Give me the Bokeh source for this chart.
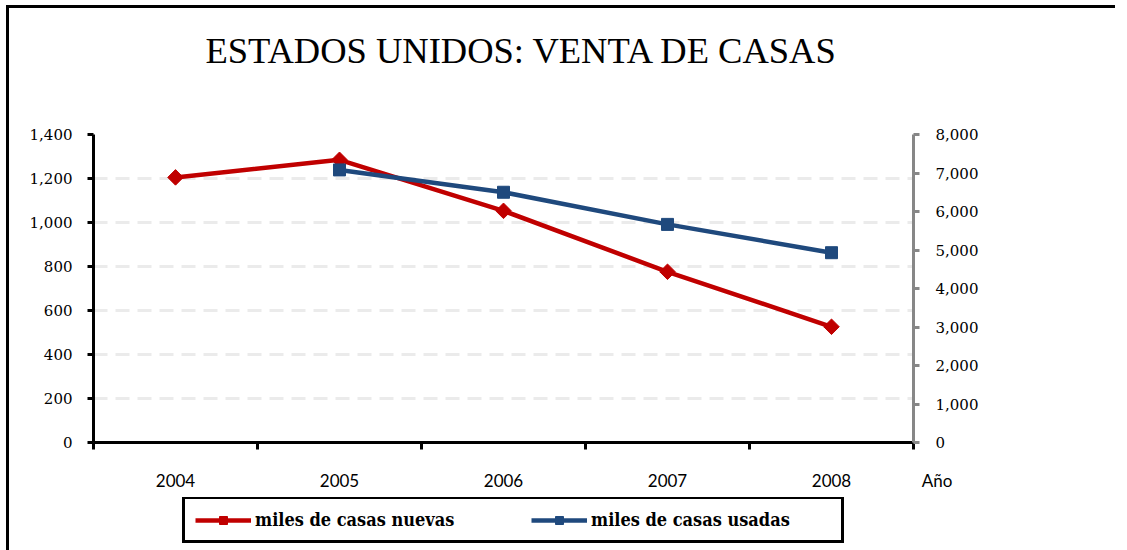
from bokeh.plotting import figure
from bokeh.layouts import column
from bokeh.models import (Range1d, LinearAxis, FixedTicker, NumeralTickFormatter,
                          Legend, LegendItem, ColumnDataSource, Title)
from bokeh.embed import file_html
from bokeh.resources import INLINE
import numpy as np

# ---- data ----
years = ["2004", "2005", "2006", "2007", "2008"]
nuevas = [1205, 1285, 1053, 776, 526]            # miles de casas nuevas (eje izq.)
usadas = [np.nan, 7080, 6500, 5665, 4930]        # miles de casas usadas (eje der.)
left_ticks = [0, 200, 400, 600, 800, 1000, 1200, 1400]
right_ticks = [0, 1000, 2000, 3000, 4000, 5000, 6000, 7000, 8000]
title_text = "ESTADOS UNIDOS: VENTA DE CASAS"
x_label = "Año"
label_nuevas = "miles de casas nuevas"
label_usadas = "miles de casas usadas"

n = len(years)
xc = np.arange(n) + 0.5          # category centres
xb = list(range(n + 1))          # category boundaries

src = ColumnDataSource(dict(x=xc, nuevas=nuevas, usadas=usadas))

fig = figure(frame_width=817, frame_height=305, output_backend="svg", toolbar_location=None,
             x_range=Range1d(0, n), y_range=Range1d(0, 1400), title=None,
             min_border_left=84, min_border_right=205, min_border_top=126,
             min_border_bottom=58)
fig.styles = {"border-top": "3px solid black", "border-left": "3px solid black",
              "margin-left": "6px", "margin-top": "5px"}
fig.outline_line_color = None
fig.background_fill_color = "white"
fig.border_fill_color = "white"

# title: spacer (next to the frame) then the main title above it
fig.add_layout(Title(text="\u00a0", text_font_size="10px", standoff=51,
                     text_color="white"), "above")
fig.add_layout(Title(text=title_text, align="left", offset=112, standoff=0,
                     text_font="Liberation Serif", text_font_size="36.5px",
                     text_font_style="normal", text_color="black"), "above")

# x axis (years at category centres, ticks at category boundaries, axis name at the end)
xa = fig.xaxis[0]
xa.ticker = FixedTicker(ticks=list(xc) + [float(n)], minor_ticks=xb)
overrides = {float(v): y for v, y in zip(xc, years)}
overrides[float(n)] = "\u00a0" * 11 + x_label
xa.major_label_overrides = overrides
xa.axis_line_color = "black"
xa.axis_line_width = 3
xa.major_tick_line_color = None
xa.major_tick_out = 0
xa.major_tick_in = 0
xa.minor_tick_line_color = "black"
xa.minor_tick_line_width = 3
xa.minor_tick_out = 7
xa.minor_tick_in = 0
xa.major_label_standoff = 20
xa.major_label_text_font = "Lato"
xa.major_label_text_font_size = "17px"
xa.major_label_text_color = "black"

# left axis
ya = fig.yaxis[0]
ya.ticker = FixedTicker(ticks=left_ticks)
ya.formatter = NumeralTickFormatter(format="0,0")
ya.axis_line_color = "black"
ya.axis_line_width = 3
ya.major_tick_line_color = "black"
ya.major_tick_line_width = 3
ya.major_tick_out = 6
ya.major_tick_in = 0
ya.minor_tick_line_color = None
ya.major_label_standoff = 15
ya.major_label_text_font = "DejaVu Serif"
ya.major_label_text_font_size = "15px"
ya.major_label_text_color = "black"

# right axis
fig.extra_y_ranges = {"usadas": Range1d(0, 8000)}
ra = LinearAxis(y_range_name="usadas", ticker=FixedTicker(ticks=right_ticks),
                formatter=NumeralTickFormatter(format="0,0"))
ra.axis_line_color = "#878787"
ra.axis_line_width = 3
ra.major_tick_line_color = "#878787"
ra.major_tick_line_width = 3
ra.major_tick_out = 6
ra.major_tick_in = 0
ra.minor_tick_line_color = None
ra.major_label_standoff = 16
ra.major_label_text_font = "DejaVu Serif"
ra.major_label_text_font_size = "15px"
ra.major_label_text_color = "black"
fig.add_layout(ra, "right")

# grid
fig.xgrid.grid_line_color = None
fig.ygrid.ticker = FixedTicker(ticks=left_ticks[1:])
fig.ygrid.grid_line_color = "#ebebeb"
fig.ygrid.grid_line_width = 3
fig.ygrid.grid_line_dash = "14 8"

# series
def draw_series(f):
    rl = f.line("x", "nuevas", source=src, line_color="#C00000", line_width=4.5)
    rm = f.scatter("x", "nuevas", source=src, marker="square", angle=np.pi / 4,
                   size=11, fill_color="#C00000", line_color="#C00000")
    kw = {"y_range_name": "usadas"} if "usadas" in f.extra_y_ranges else {}
    bl = f.line("x", "usadas", source=src, line_color="#1F497D", line_width=4.5, **kw)
    bm = f.scatter("x", "usadas", source=src, marker="square", size=12,
                   fill_color="#1F497D", line_color="#1F497D", **kw)
    return rl, rm, bl, bm

draw_series(fig)

# legend strip below the chart (series out of its view, only the legend is seen)
leg = figure(width=1106, height=53, output_backend="svg", toolbar_location=None,
             x_range=Range1d(0, n), y_range=Range1d(-2, -1), title=None,
             x_axis_type=None, y_axis_type=None, min_border=0)
leg.styles = {"border-left": "3px solid black", "margin-left": "6px"}
leg.outline_line_color = None
leg.background_fill_color = "white"
leg.border_fill_color = "white"
rl, rm, bl, bm = draw_series(leg)

legend = Legend(items=[LegendItem(label=label_nuevas, renderers=[rl, rm]),
                       LegendItem(label=label_usadas, renderers=[bl, bm])],
                orientation="horizontal", location=(89, 7))
legend.border_line_color = "black"
legend.border_line_alpha = 1.0
legend.border_line_width = 3
legend.background_fill_color = "white"
legend.background_fill_alpha = 1.0
legend.label_text_font = "DejaVu Serif Condensed"
legend.label_text_font_style = "bold"
legend.label_text_font_size = "18px"
legend.label_text_color = "black"
legend.glyph_width = 56
legend.glyph_height = 20
legend.label_standoff = 4
legend.label_width = 240
legend.spacing = 36
legend.padding = 10
legend.margin = 0
leg.add_layout(legend, "center")

p = column(fig, leg, spacing=0)

open("out.html", "w").write(file_html(p, INLINE))
